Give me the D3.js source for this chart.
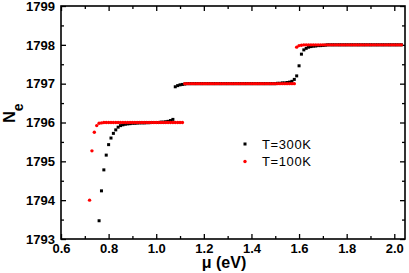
<!DOCTYPE html>
<html>
<head>
<meta charset="utf-8">
<script src="https://cdnjs.cloudflare.com/ajax/libs/d3/7.8.5/d3.min.js"></script>
<style>
  body { margin: 0; background: #fff; }
  svg { display: block; }
  .tick text { font-family: "Liberation Sans", Arial, sans-serif; font-weight: bold; font-size: 13px; fill: #000; }
  .tick line { stroke: #000; stroke-width: 1.3; }
</style>
</head>
<body>
<svg id="chart"></svg>
<script>
const WIDTH = 409;
const HEIGHT = 273;
const PLOT_LEFT = 61; //left frame edge
const PLOT_RIGHT = 405; //right frame edge
const PLOT_TOP = 6; //top frame edge
const PLOT_BOTTOM = 239; //bottom frame edge

// chemical potential grid (eV)
const mu = [
  0.72,0.73,0.74,0.75,0.76,0.77,0.78,0.79,0.80,0.81,
  0.82,0.83,0.84,0.85,0.86,0.87,0.88,0.89,0.90,0.91,
  0.92,0.93,0.94,0.95,0.96,0.97,0.98,0.99,1.00,1.01,
  1.02,1.03,1.04,1.05,1.06,1.07,1.08,1.09,1.10,1.11,
  1.12,1.13,1.14,1.15,1.16,1.17,1.18,1.19,1.20,1.21,
  1.22,1.23,1.24,1.25,1.26,1.27,1.28,1.29,1.30,1.31,
  1.32,1.33,1.34,1.35,1.36,1.37,1.38,1.39,1.40,1.41,
  1.42,1.43,1.44,1.45,1.46,1.47,1.48,1.49,1.50,1.51,
  1.52,1.53,1.54,1.55,1.56,1.57,1.58,1.59,1.60,1.61,
  1.62,1.63,1.64,1.65,1.66,1.67,1.68,1.69,1.70,1.71,
  1.72,1.73,1.74,1.75,1.76,1.77,1.78,1.79,1.80,1.81,
  1.82,1.83,1.84,1.85,1.86,1.87,1.88,1.89,1.90,1.91,
  1.92,1.93,1.94,1.95,1.96,1.97,1.98,1.99,2.00,2.01,
  2.02,2.03
];

// N_e at T=300K (null = no point)
const n300 = [
  null,null,null,null,1793.47,1794.24,1794.78,1795.16,1795.43,1795.60,
  1795.72,1795.81,1795.88,1795.92,1795.94,1795.955,1795.965,1795.97,1795.98,1795.98,
  1795.985,1795.99,1795.99,1795.99,1795.995,1795.995,1796,1796,1796,1796,
  1796.01,1796.01,1796.02,1796.03,1796.05,1796.08,1796.92,1796.95,1796.97,1796.98,
  1796.99,1797,1797,1797,1797,1797,1797,1797,1797,1797,
  1797,1797,1797,1797,1797,1797,1797,1797,1797,1797,
  1797,1797,1797,1797,1797,1797,1797,1797,1797,1797,
  1797,1797,1797,1797,1797,1797,1797,1797,1797,1797.01,
  1797.01,1797.02,1797.02,1797.03,1797.04,1797.06,1797.11,1797.20,1797.46,1797.76,
  1797.87,1797.91,1797.94,1797.955,1797.965,1797.97,1797.98,1797.98,1797.985,1797.99,
  1798,1798,1798,1798,1798,1798,1798,1798,1798,1798,
  1798,1798,1798,1798,1798,1798,1798,1798,1798,1798,
  1798,1798,1798,1798,1798,1798,1798,1798,1798,1798,
  1798,1798
];

// N_e at T=100K
const n100 = [
  1794.00,1795.27,1795.75,1795.92,1795.98,1795.99,1796,1796,1796,1796,
  1796,1796,1796,1796,1796,1796,1796,1796,1796,1796,
  1796,1796,1796,1796,1796,1796,1796,1796,1796,1796,
  1796,1796,1796,1796,1796,1796,1796,1796,1796,1796,
  1797,1797,1797,1797,1797,1797,1797,1797,1797,1797,
  1797,1797,1797,1797,1797,1797,1797,1797,1797,1797,
  1797,1797,1797,1797,1797,1797,1797,1797,1797,1797,
  1797,1797,1797,1797,1797,1797,1797,1797,1797,1797,
  1797,1797,1797,1797,1797,1797,1797,1797.94,1797.98,1797.99,
  1798,1798,1798,1798,1798,1798,1798,1798,1798,1798,
  1798,1798,1798,1798,1798,1798,1798,1798,1798,1798,
  1798,1798,1798,1798,1798,1798,1798,1798,1798,1798,
  1798,1798,1798,1798,1798,1798,1798,1798,1798,1798,
  1798,1798
];

const xTicks = [0.6, 0.8, 1.0, 1.2, 1.4, 1.6, 1.8, 2.0];
const xMinorTicks = [0.7, 0.9, 1.1, 1.3, 1.5, 1.7, 1.9];
const yTicks = [1793, 1794, 1795, 1796, 1797, 1798, 1799];
const yMinorTicks = [1793.5, 1794.5, 1795.5, 1796.5, 1797.5, 1798.5];
const legendLabels = ["T=300K", "T=100K"];

var xScale = d3.scaleLinear()
  .domain([0.6, 2.045])
  .range([PLOT_LEFT, PLOT_RIGHT]);

var yScale = d3.scaleLinear()
  .domain([1793, 1799])
  .range([PLOT_BOTTOM, PLOT_TOP]);

var chart = d3.select("#chart")
  .attr("width", WIDTH)
  .attr("height", HEIGHT);

chart.append("rect") //white background
  .attr("width", WIDTH)
  .attr("height", HEIGHT)
  .attr("fill", "#fff");

// ticks all point inward
function addAxis(axis, transform) {
  var g = chart.append("g")
    .attr("transform", transform)
    .call(axis);
  g.select(".domain").remove();
  return g;
}

addAxis(d3.axisBottom(xScale).tickValues(xTicks).tickSize(-5).tickSizeOuter(0).tickPadding(5).tickFormat(d3.format(".1f")),
  "translate(0," + PLOT_BOTTOM + ")");
addAxis(d3.axisBottom(xScale).tickValues(xMinorTicks).tickSize(-3).tickSizeOuter(0).tickFormat(""),
  "translate(0," + PLOT_BOTTOM + ")");
addAxis(d3.axisTop(xScale).tickValues(xTicks).tickSize(-5).tickSizeOuter(0).tickFormat(""),
  "translate(0," + PLOT_TOP + ")");
addAxis(d3.axisTop(xScale).tickValues(xMinorTicks).tickSize(-3).tickSizeOuter(0).tickFormat(""),
  "translate(0," + PLOT_TOP + ")");

addAxis(d3.axisLeft(yScale).tickValues(yTicks).tickSize(-5).tickSizeOuter(0).tickPadding(6).tickFormat(d3.format("d")),
  "translate(" + PLOT_LEFT + ",0)");
addAxis(d3.axisLeft(yScale).tickValues(yMinorTicks).tickSize(-3).tickSizeOuter(0).tickFormat(""),
  "translate(" + PLOT_LEFT + ",0)");
addAxis(d3.axisRight(yScale).tickValues(yTicks).tickSize(-5).tickSizeOuter(0).tickFormat(""),
  "translate(" + PLOT_RIGHT + ",0)");
addAxis(d3.axisRight(yScale).tickValues(yMinorTicks).tickSize(-3).tickSizeOuter(0).tickFormat(""),
  "translate(" + PLOT_RIGHT + ",0)");

chart.append("rect") //plot frame
  .attr("x", PLOT_LEFT)
  .attr("y", PLOT_TOP)
  .attr("width", PLOT_RIGHT - PLOT_LEFT)
  .attr("height", PLOT_BOTTOM - PLOT_TOP)
  .attr("fill", "none")
  .attr("stroke", "#000")
  .attr("stroke-width", 1.6);

var data300 = mu.map((m, i) => [m, n300[i]]).filter((d) => d[1] !== null);
var data100 = mu.map((m, i) => [m, n100[i]]);

chart.append("g") //T=300K black squares
  .selectAll("rect")
  .data(data300)
  .enter()
  .append("rect")
  .attr("x", (d) => xScale(d[0]) - 1.5)
  .attr("y", (d) => yScale(d[1]) - 1.5)
  .attr("width", 3)
  .attr("height", 3)
  .attr("fill", "#000");

chart.append("g") //T=100K red dots, drawn on top
  .selectAll("circle")
  .data(data100)
  .enter()
  .append("circle")
  .attr("cx", (d) => xScale(d[0]))
  .attr("cy", (d) => yScale(d[1]))
  .attr("r", 1.7)
  .attr("fill", "#ff0000");

// legend
var legend = chart.append("g")
  .attr("transform", "translate(245,144)");

legend.append("rect")
  .attr("x", -1.5)
  .attr("y", -1.5)
  .attr("width", 3)
  .attr("height", 3)
  .attr("fill", "#000");

legend.append("circle")
  .attr("cx", 0)
  .attr("cy", 17.5)
  .attr("r", 1.7)
  .attr("fill", "#ff0000");

legend.selectAll("text")
  .data(legendLabels)
  .enter()
  .append("text")
  .attr("x", 17)
  .attr("y", (d, i) => 4.6 + i * 17.5)
  .style("font-family", "'Liberation Sans', Arial, sans-serif")
  .style("font-size", "13px")
  .style("letter-spacing", "0.6px")
  .text((d) => d);

chart.append("text") //x-axis title
  .attr("x", 224)
  .attr("y", 268)
  .style("text-anchor", "middle")
  .style("font-family", "'Liberation Sans', Arial, sans-serif")
  .style("font-weight", "bold")
  .style("font-size", "16px")
  .text("\u03bc (eV)");

var yTitle = chart.append("text") //y-axis title, N with subscript e
  .attr("transform", "translate(15,113) rotate(-90)")
  .style("text-anchor", "middle")
  .style("font-family", "'Liberation Sans', Arial, sans-serif")
  .style("font-weight", "bold")
  .style("font-size", "16px");

yTitle.append("tspan").text("N");
yTitle.append("tspan").attr("dy", 8).style("font-size", "14px").text("e");
</script>
</body>
</html>
